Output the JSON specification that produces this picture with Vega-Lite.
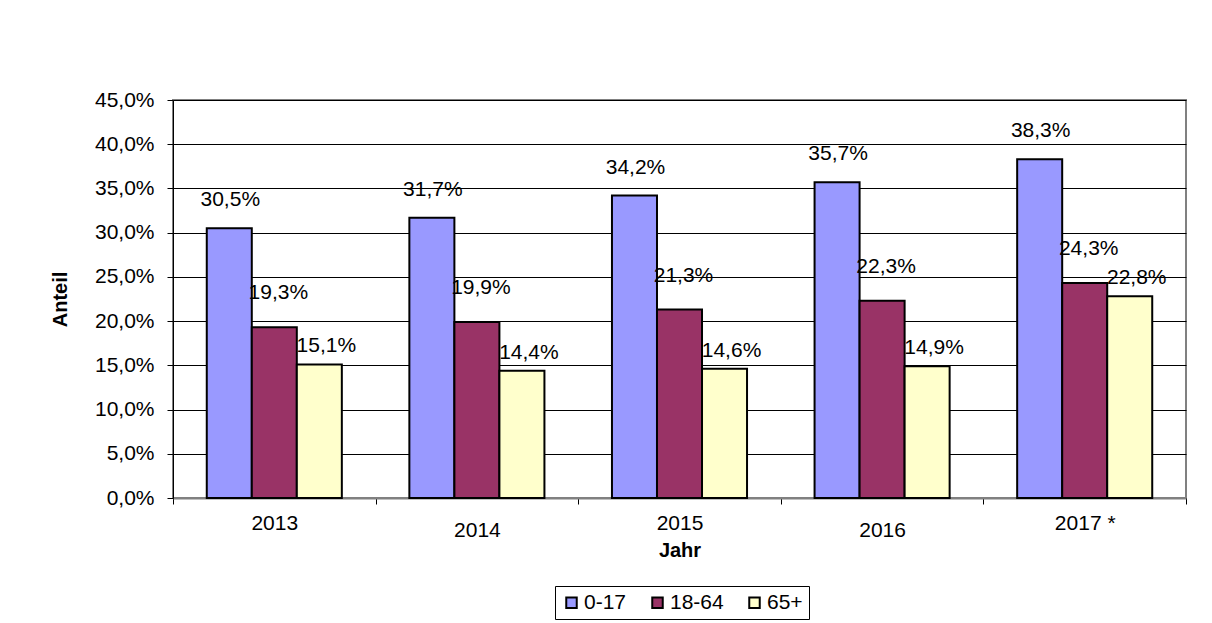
{
  "$schema": "https://vega.github.io/schema/vega-lite/v6.json",
  "width": 1013,
  "height": 398,
  "autosize": {"type": "none"},
  "padding": {"left": 173, "top": 100, "right": 26, "bottom": 125},
  "background": "white",
  "config": {
    "locale": {"number": {"decimal": ",", "thousands": ".", "grouping": [3], "currency": ["", " €"]}},
    "font": "Liberation Sans",
    "view": {"stroke": "#808080", "strokeWidth": 2}
  },
  "data": {
    "values": [
      {"Jahr": "2013", "Gruppe": "0-17", "Anteil": 0.305},
      {"Jahr": "2013", "Gruppe": "18-64", "Anteil": 0.193},
      {"Jahr": "2013", "Gruppe": "65+", "Anteil": 0.151},
      {"Jahr": "2014", "Gruppe": "0-17", "Anteil": 0.317},
      {"Jahr": "2014", "Gruppe": "18-64", "Anteil": 0.199},
      {"Jahr": "2014", "Gruppe": "65+", "Anteil": 0.144},
      {"Jahr": "2015", "Gruppe": "0-17", "Anteil": 0.342},
      {"Jahr": "2015", "Gruppe": "18-64", "Anteil": 0.213},
      {"Jahr": "2015", "Gruppe": "65+", "Anteil": 0.146},
      {"Jahr": "2016", "Gruppe": "0-17", "Anteil": 0.357},
      {"Jahr": "2016", "Gruppe": "18-64", "Anteil": 0.223},
      {"Jahr": "2016", "Gruppe": "65+", "Anteil": 0.149},
      {"Jahr": "2017", "Gruppe": "0-17", "Anteil": 0.383},
      {"Jahr": "2017", "Gruppe": "18-64", "Anteil": 0.243},
      {"Jahr": "2017", "Gruppe": "65+", "Anteil": 0.228}
    ]
  },
  "encoding": {
    "x": {
      "field": "Jahr", "type": "nominal",
      "scale": {"paddingInner": 0, "paddingOuter": 0},
      "axis": {
        "title": "Jahr", "titleFontSize": 20, "titleFontWeight": "bold", "titleColor": "black", "titlePadding": 0,
        "labelAngle": 0, "labelFontSize": 21, "labelColor": "black",
        "labelPadding": {"condition": {"test": "datum.value == '2014' || datum.value == '2016'", "value": 15}, "value": 8},
        "labelExpr": "datum.value == '2017' ? '2017 *' : datum.value",
        "tickBand": "extent", "tickColor": "black", "tickSize": 6, "tickWidth": 1,
        "domainColor": "#808080", "domainWidth": 2
      }
    },
    "xOffset": {"field": "Gruppe", "type": "nominal", "scale": {"paddingOuter": 0.75, "paddingInner": 0}},
    "y": {
      "field": "Anteil", "type": "quantitative",
      "scale": {"domain": [0, 0.45], "nice": false},
      "axis": {
        "title": "Anteil", "titleFontSize": 20, "titleFontWeight": "bold", "titleColor": "black", "titlePadding": 24,
        "values": [0, 0.05, 0.1, 0.15, 0.2, 0.25, 0.3, 0.35, 0.4, 0.45],
        "format": ".1%", "labelFontSize": 21, "labelColor": "black", "labelPadding": 13,
        "grid": true, "gridColor": "black", "gridWidth": 1,
        "tickColor": "black", "tickSize": 6, "domainColor": "black", "domainWidth": 1
      }
    }
  },
  "layer": [
    {
      "mark": {"type": "bar", "stroke": "black", "strokeWidth": 2},
      "encoding": {
        "color": {
          "field": "Gruppe", "type": "nominal",
          "scale": {"domain": ["0-17", "18-64", "65+"], "range": ["#9999FF", "#993366", "#FFFFCC"]},
          "legend": {
            "title": null, "orient": "none", "direction": "horizontal",
            "legendX": 382, "legendY": 486,
            "labelFontSize": 21, "labelColor": "black", "labelOffset": 2,
            "symbolType": "square", "symbolSize": 110, "symbolStrokeColor": "black", "symbolStrokeWidth": 2,
            "columnPadding": 20, "strokeColor": "black", "padding": 6,
            "fillColor": "white"
          }
        }
      }
    },
    {
      "transform": [{"filter": "datum.Gruppe == '0-17'"}],
      "mark": {"type": "text", "fontSize": 21, "color": "black", "baseline": "middle", "dy": -28, "dx": 1},
      "encoding": {
        "text": {"field": "Anteil", "type": "quantitative", "format": ".1%"}
      }
    },
    {
      "transform": [{"filter": "datum.Gruppe == '18-64'"}],
      "mark": {"type": "text", "fontSize": 21, "color": "black", "baseline": "middle", "dy": -34, "dx": 4},
      "encoding": {
        "text": {"field": "Anteil", "type": "quantitative", "format": ".1%"}
      }
    },
    {
      "transform": [{"filter": "datum.Gruppe == '65+'"}],
      "mark": {"type": "text", "fontSize": 21, "color": "black", "baseline": "middle", "dy": -18, "dx": 7},
      "encoding": {
        "text": {"field": "Anteil", "type": "quantitative", "format": ".1%"}
      }
    }
  ]
}
